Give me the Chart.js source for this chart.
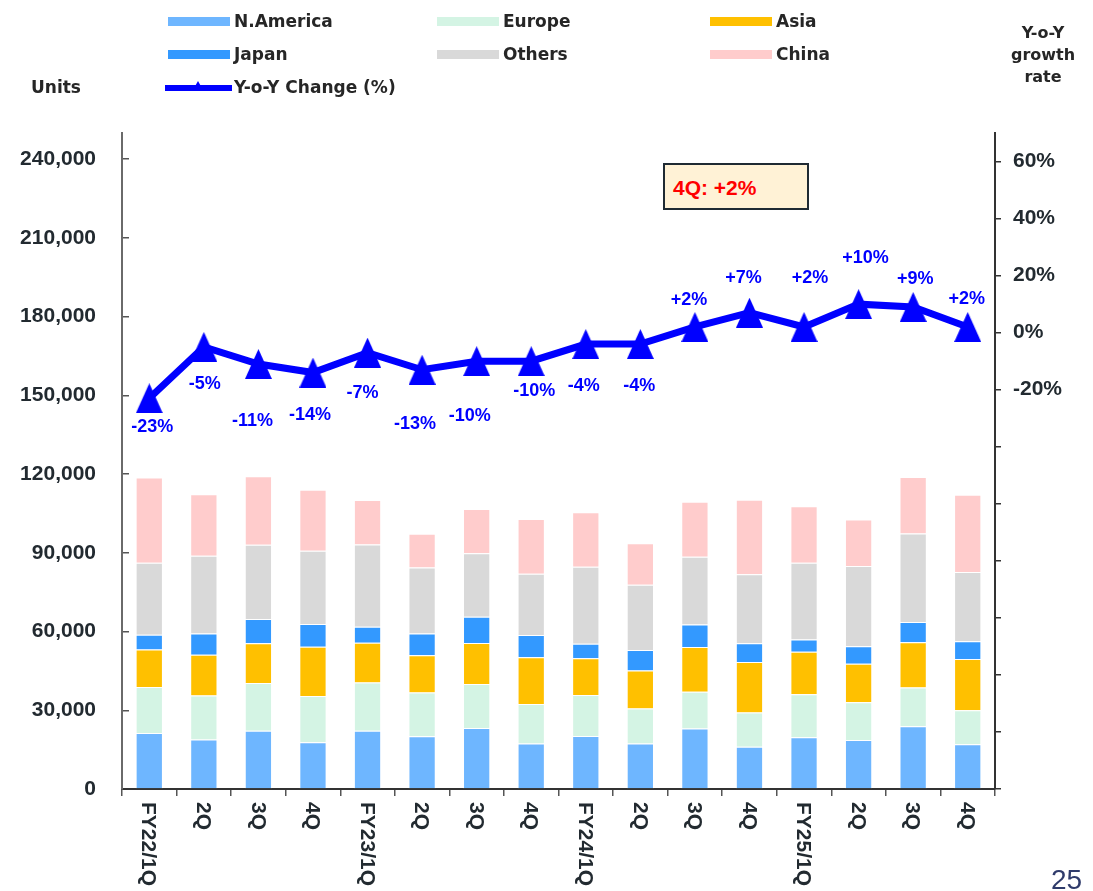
<!DOCTYPE html>
<html>
<head>
<meta charset="utf-8">
<script src="https://cdn.jsdelivr.net/npm/chart.js@4/dist/chart.umd.min.js"></script>
<style>
  body { margin: 0; width: 1093px; height: 891px; overflow: hidden; background: #fff; font-family: 'DejaVu Sans', Verdana, sans-serif; }
  #salesChart { position: absolute; left: 0; top: 0; }
  .txt { position: absolute; font-weight: bold; font-size: 17px; color: #262626; white-space: nowrap; }
  .swatch { position: absolute; width: 62px; height: 9px; }
  #note { position: absolute; left: 663px; top: 163px; width: 142px; height: 43px; border: 2.5px solid #1f2a33; background: #FFF2D6; }
  #note span { position: absolute; left: 8px; top: 11px; font-family: 'Liberation Sans', Arial, sans-serif; font-weight: bold; font-size: 21px; color: #FF0000; }
</style>
</head>
<body>
<canvas id="salesChart" width="1093" height="891"></canvas>
<div id="legend"></div>
<div class="txt" style="left:31px; top:77px;">Units</div>
<div class="txt" style="left:993px; top:22px; width:100px; text-align:center; font-size:16px; line-height:22px;">Y-o-Y<br>growth<br>rate</div>
<div id="note"><span>4Q: +2%</span></div>
<div style="position:absolute; left:1051px; top:864px; font-family:'Liberation Sans', Arial, sans-serif; font-size:28px; color:#2F3B6B;">25</div>
<script>
// Données (unités par trimestre)
const categories = ['FY22/1Q', '2Q', '3Q', '4Q', 'FY23/1Q', '2Q', '3Q', '4Q', 'FY24/1Q', '2Q', '3Q', '4Q', 'FY25/1Q', '2Q', '3Q', '4Q'];
const naUnits = [21300, 18900, 22200, 17800, 22200, 20100, 23200, 17300, 20200, 17300, 23100, 16100, 19700, 18700, 23900, 17100];
const europeUnits = [17600, 16700, 18200, 17600, 18400, 16700, 16800, 15100, 15600, 13400, 14000, 13100, 16400, 14400, 14800, 12900];
const asiaUnits = [14300, 15600, 15100, 18800, 15100, 14200, 15600, 17800, 14000, 14500, 17000, 19200, 16200, 14600, 17200, 19500];
const japanUnits = [5600, 8100, 9300, 8700, 6100, 8300, 10000, 8500, 5600, 7800, 8600, 7100, 4700, 6700, 7700, 6800];
const othersUnits = [27400, 29600, 28300, 27900, 31400, 25100, 24200, 23300, 29300, 24800, 25800, 26300, 29200, 30600, 33800, 26400];
const chinaUnits = [32500, 23400, 26100, 23200, 16900, 12900, 16900, 20900, 20800, 15900, 21000, 28400, 21600, 17700, 21500, 29400];
const yoyChange = [-23, -5, -11, -14, -7, -13, -10, -10, -4, -4, 2, 7, 2, 10, 9, 2];

// Graduations des deux axes
const unitTicks = [0, 30000, 60000, 90000, 120000, 150000, 180000, 210000, 240000];
const pctTicks = [-160, -140, -120, -100, -80, -60, -40, -20, 0, 20, 40, 60];

// Décalage des étiquettes du Y-o-Y (style uniquement)
const labelDx = [3, 1, -6, -3, -5, -7, -7, 3, -2, -1, -6, -6, 6, 7, 2, -1];
const labelDy = [29, 37, 57, 42, 40, 54, 55, 30, 42, 42, -27, -35, -49, -46, -28, -28];

const axisFont = "'Liberation Sans', Arial, sans-serif";
const tickFont = { family: axisFont, size: 21, weight: 'bold' };
const textColor = '#222a30';

// Triangle un peu plus haut que large pour les points
function makeTriangle(w, h, color) {
    const c = document.createElement('canvas');
    c.width = w; c.height = h;
    const g = c.getContext('2d');
    g.fillStyle = color;
    g.beginPath();
    g.moveTo(w / 2, 0);
    g.lineTo(w, h);
    g.lineTo(0, h);
    g.closePath();
    g.fill();
    return c;
}
const triangle = makeTriangle(27, 30, '#0000FF');

function barSet(label, data, color) {
    return {
        type: 'bar',
        label: label,
        data: data,
        backgroundColor: color,
        borderColor: '#ffffff',
        borderWidth: 1,
        barPercentage: 0.5,
        categoryPercentage: 1,
        yAxisID: 'y',
        order: 1
    };
}

// Étiquettes de l'axe X, lues de haut en bas
const xLabelsPlugin = {
    id: 'xLabels',
    afterDraw(chart) {
        const xs = chart.scales.x;
        const c = chart.ctx;
        c.save();
        c.font = 'bold 21px ' + axisFont;
        c.fillStyle = textColor;
        c.textAlign = 'left';
        c.textBaseline = 'middle';
        categories.forEach((cat, i) => {
            c.save();
            c.translate(xs.getPixelForTick(i) - 1, xs.top + 13);
            c.rotate(Math.PI / 2);
            c.fillText(cat, 0, 0);
            c.restore();
        });
        c.restore();
    }
};

// Valeurs du Y-o-Y au-dessus / au-dessous des points
const pointLabelsPlugin = {
    id: 'pointLabels',
    afterDatasetsDraw(chart) {
        const meta = chart.getDatasetMeta(6);
        const c = chart.ctx;
        c.save();
        c.font = 'bold 18px ' + axisFont;
        c.fillStyle = '#0000FF';
        c.textAlign = 'center';
        c.textBaseline = 'middle';
        meta.data.forEach((pt, i) => {
            const v = yoyChange[i];
            const txt = (v > 0 ? '+' : '') + v + '%';
            c.fillText(txt, pt.x + labelDx[i], pt.y + labelDy[i]);
        });
        c.restore();
    }
};

const ctx = document.getElementById('salesChart').getContext('2d');
const salesChart = new Chart(ctx, {
    type: 'bar',
    data: {
        labels: categories,
        datasets: [
            barSet('N.America', naUnits, '#6EB6FF'),
            barSet('Europe', europeUnits, '#D4F4E4'),
            barSet('Asia', asiaUnits, '#FFC000'),
            barSet('Japan', japanUnits, '#3399FF'),
            barSet('Others', othersUnits, '#D9D9D9'),
            barSet('China', chinaUnits, '#FFCCCC'),
            {
                type: 'line',
                label: 'Y-o-Y Change (%)',
                data: yoyChange,
                borderColor: '#0000FF',
                backgroundColor: '#0000FF',
                borderWidth: 7,
                tension: 0,
                pointStyle: triangle,
                yAxisID: 'y1',
                order: 0
            }
        ]
    },
    options: {
        responsive: false,
        animation: false,
        layout: { padding: { top: 133, left: 0, right: 0, bottom: 0 } },
        plugins: {
            legend: { display: false },
            tooltip: { enabled: false }
        },
        scales: {
            x: {
                stacked: true,
                ticks: { display: false },
                grid: { drawOnChartArea: false, offset: true, tickLength: 7, color: '#555', lineWidth: 1.5 },
                border: { color: '#333', width: 2 },
                afterFit: s => { s.height = 102; }
            },
            y: {
                stacked: true,
                min: 0,
                max: 250000,
                ticks: {
                    padding: 33,
                    color: textColor,
                    font: tickFont,
                    callback: v => v.toLocaleString('en-US')
                },
                grid: { drawOnChartArea: false, tickLength: -7, color: '#555', lineWidth: 1.5 },
                border: { color: '#6a6a6a', width: 2 },
                afterBuildTicks: s => { s.ticks = unitTicks.map(v => ({ value: v })); },
                afterFit: s => { s.width = 122; }
            },
            y1: {
                position: 'right',
                min: -160,
                max: 70,
                ticks: {
                    padding: 12,
                    color: textColor,
                    font: tickFont,
                    callback: v => (v >= -20 ? v + '%' : '')
                },
                grid: { drawOnChartArea: false, tickLength: 6, color: '#333', lineWidth: 1.5 },
                border: { color: '#333', width: 2 },
                afterBuildTicks: s => { s.ticks = pctTicks.map(v => ({ value: v })); },
                afterFit: s => { s.width = 98; }
            }
        }
    },
    plugins: [xLabelsPlugin, pointLabelsPlugin]
});

// Légende HTML construite à partir des datasets
const legend = document.getElementById('legend');
const colX = [168, 437, 710];
const rowY = [22, 55];
salesChart.data.datasets.slice(0, 6).forEach((ds, i) => {
    const x = colX[i % 3];
    const y = rowY[Math.floor(i / 3)];
    const sw = document.createElement('div');
    sw.className = 'swatch';
    sw.style.left = x + 'px';
    sw.style.top = (y - 5) + 'px';
    sw.style.background = ds.backgroundColor;
    legend.appendChild(sw);
    const t = document.createElement('div');
    t.className = 'txt';
    t.style.left = (x + 66) + 'px';
    t.style.top = (y - 11) + 'px';
    t.textContent = ds.label;
    legend.appendChild(t);
});
const lineDs = salesChart.data.datasets[6];
legend.insertAdjacentHTML('beforeend',
    '<div style="position:absolute; left:165px; top:85px; width:67px; height:6px; background:' + lineDs.borderColor + ';"></div>' +
    '<div style="position:absolute; left:193px; top:81px; width:0; height:0; border-left:5px solid transparent; border-right:5px solid transparent; border-bottom:9px solid ' + lineDs.borderColor + ';"></div>' +
    '<div class="txt" style="left:234px; top:77px;">' + lineDs.label + '</div>');
</script>
</body>
</html>
